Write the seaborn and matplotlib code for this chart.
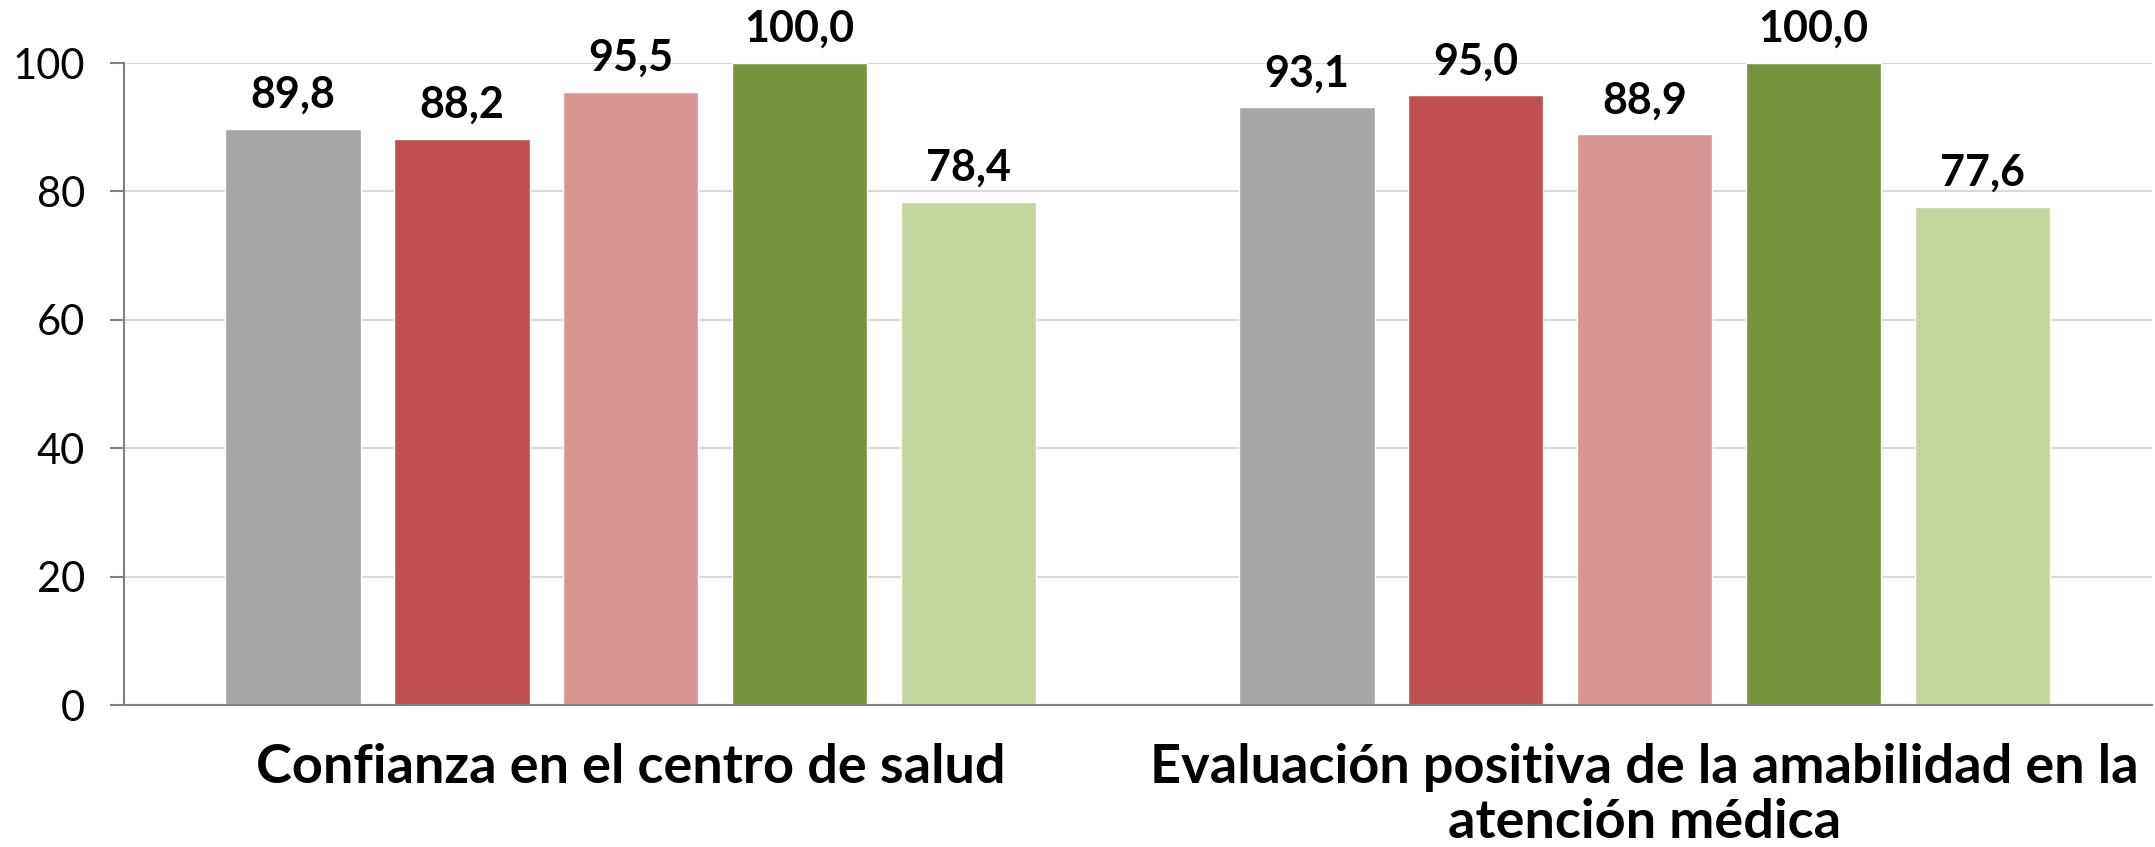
import matplotlib
matplotlib.use("Agg")
import matplotlib.pyplot as plt
import seaborn as sns
import pandas as pd

# --- dati ---
categorias = ["Confianza en el centro de salud",
              "Evaluación positiva de la amabilidad en la\natención médica"]
series = ["S1", "S2", "S3", "S4", "S5"]
valores = {
    "S1": [89.8, 93.1],
    "S2": [88.2, 95.0],
    "S3": [95.5, 88.9],
    "S4": [100.0, 100.0],
    "S5": [78.4, 77.6],
}
colores = ["#A6A6A6", "#C0504D", "#D99594", "#77933C", "#C3D69B"]
yticks = [0, 20, 40, 60, 80, 100]

rows = []
for s in series:
    for c, v in zip(categorias, valores[s]):
        rows.append({"categoria": c, "serie": s, "valor": v})
df = pd.DataFrame(rows)

sns.set_style("white")
plt.rcParams["font.family"] = ["Lato", "DejaVu Sans"]

fig = plt.figure(figsize=(21.55, 8.47), dpi=100)
ax = fig.add_axes([0.0575, 0.1676, 0.941, 0.758])

sns.barplot(data=df, x="categoria", y="valor", hue="serie", order=categorias,
            hue_order=series, palette=colores, width=0.833, gap=0.2,
            legend=False, ax=ax, saturation=1, errorbar=None)

for cont in ax.containers:
    etiquetas = [f"{b.get_height():.1f}".replace(".", ",") for b in cont]
    ax.bar_label(cont, labels=etiquetas, padding=10, fontsize=31,
                 fontweight="bold", color="black", clip_on=False)

ax.set_ylim(0, 100)
ax.set_xlim(-0.5, 1.5)
ax.set_yticks(yticks)
ax.yaxis.grid(True, color="#D9D9D9", linewidth=1.5)
ax.set_axisbelow(True)
ax.set_xlabel("")
ax.set_ylabel("")

for lado in ["top", "right"]:
    ax.spines[lado].set_visible(False)
ax.spines["left"].set_color("#808080")
ax.spines["bottom"].set_color("#808080")
ax.spines["left"].set_linewidth(1.5)
ax.spines["bottom"].set_linewidth(1.5)

ax.tick_params(axis="y", left=True, length=10, width=1.5, color="#808080",
               labelsize=30, pad=18, labelcolor="black")
ax.tick_params(axis="x", bottom=False, pad=24, labelcolor="black")
for t in ax.get_xticklabels():
    t.set_fontsize(39)
    t.set_fontweight("bold")
    t.set_linespacing(1.15)
    t.set_verticalalignment("top")

fig.savefig("out.png", dpi=100)
